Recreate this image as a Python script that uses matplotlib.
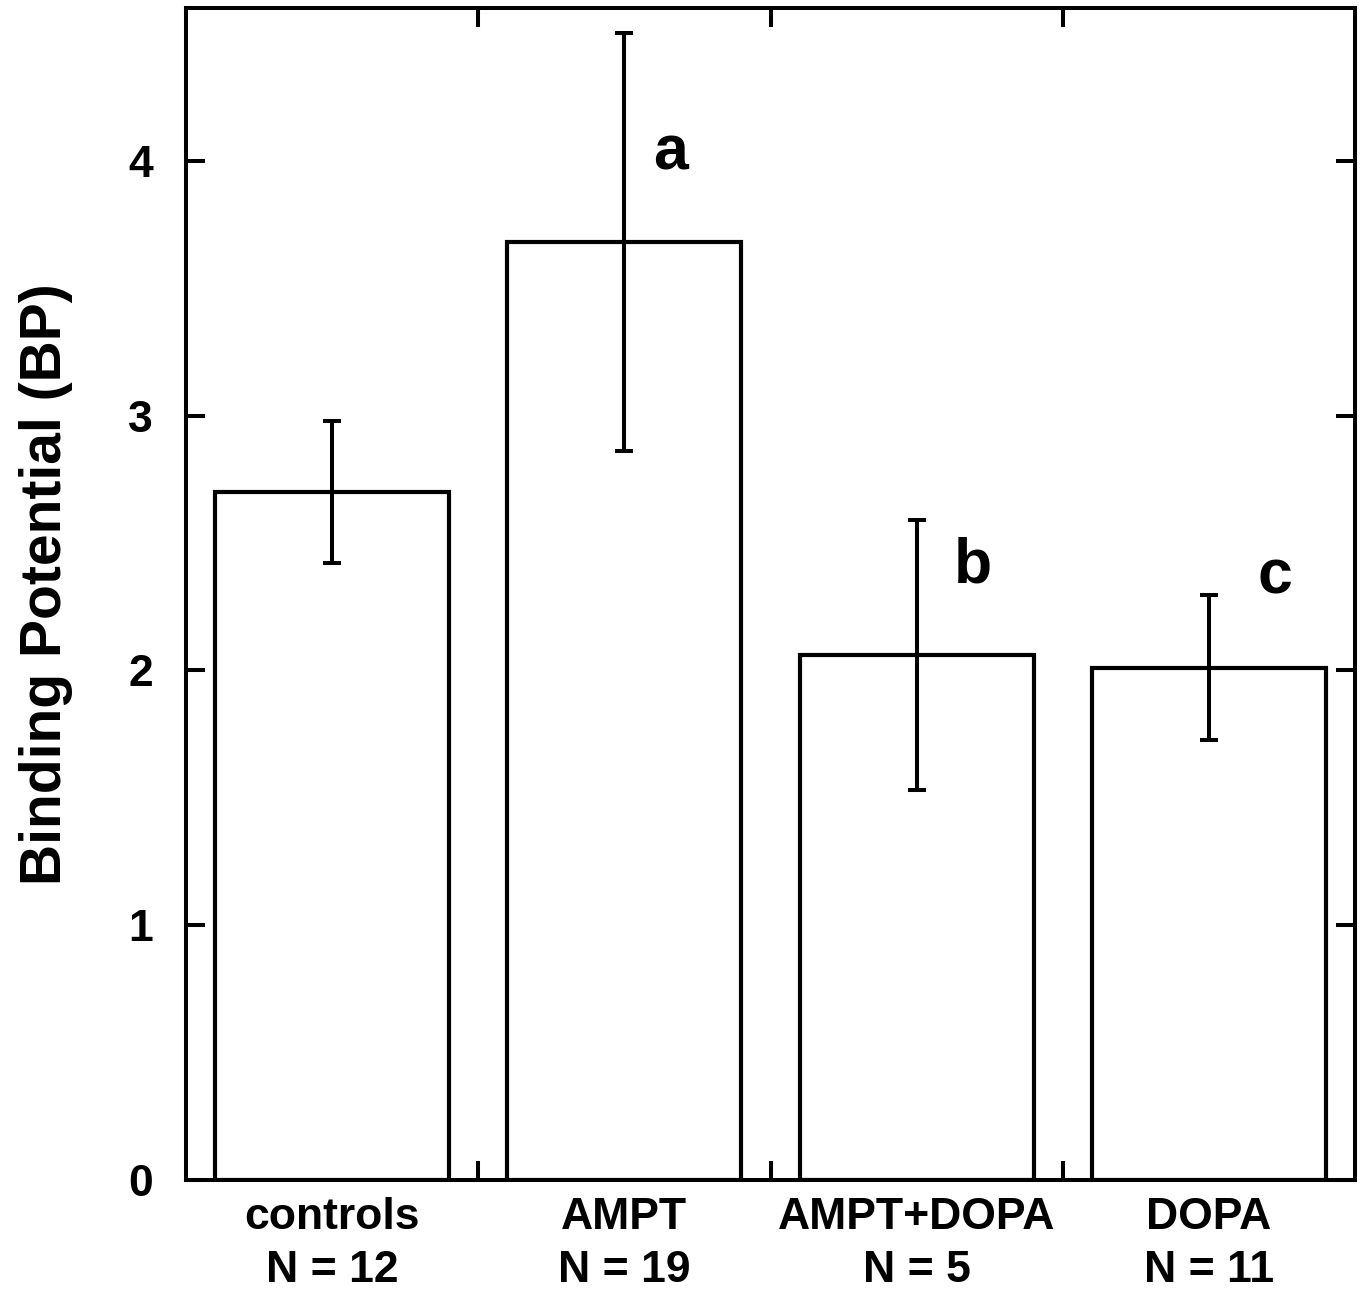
import matplotlib.pyplot as plt
import numpy as np

plt.rcParams['font.family'] = ['Liberation Sans', 'DejaVu Sans']
plt.rcParams['font.weight'] = 'bold'

# data
groups = ['controls', 'AMPT', 'AMPT+DOPA', 'DOPA']
n_subjects = [12, 19, 5, 11]
bp_mean = [2.70, 3.68, 2.06, 2.01]
bp_err = [0.28, 0.82, 0.53, 0.285]
sig_letters = ['', 'a', 'b', 'c']
letter_x = [0, 1.658, 2.694, 3.726]
letter_y = [0, 3.965, 2.345, 2.30]

fig = plt.figure(figsize=(13.63, 12.92), dpi=100)
ax = fig.add_axes([0.1365, 0.0867, 0.8576, 0.9071])

x = np.arange(len(groups)) + 0.5
ax.bar(x, bp_mean, width=0.8, color='white', edgecolor='black', linewidth=3.0, zorder=2)
ax.errorbar(x, bp_mean, yerr=bp_err, fmt='none', ecolor='black', elinewidth=2.9,
            capsize=6.5, capthick=2.9, zorder=3)

# significance letters next to the error bars
for lx, lab, ly in zip(letter_x, sig_letters, letter_y):
    if lab:
        ax.text(lx, ly, lab, fontsize=45, fontweight='bold', ha='center', va='baseline')

ax.set_xlim(0, 4)
ax.set_ylim(0, 4.6)

ax.set_xticks(x)
ax.set_xticklabels([f'{g}\nN = {n}' for g, n in zip(groups, n_subjects)],
                   fontsize=32, fontweight='bold', linespacing=1.4)
ax.set_xticks([1, 2, 3], minor=True)
ax.tick_params(axis='x', which='major', length=0, pad=12)
ax.tick_params(axis='x', which='minor', direction='in', length=14, width=2.9,
               top=True, bottom=True)

ax.set_yticks([0, 1, 2, 3, 4])
ax.tick_params(axis='y', which='major', direction='in', length=14, width=2.9,
               left=True, right=True, labelsize=32, pad=24)
ax.yaxis.set_minor_locator(plt.NullLocator())

ax.set_ylabel('Binding Potential (BP)', fontsize=41, fontweight='bold')
ax.yaxis.set_label_coords(-0.097, 0.508)

for sp in ax.spines.values():
    sp.set_linewidth(2.9)

fig.savefig('out.png', dpi=100)
